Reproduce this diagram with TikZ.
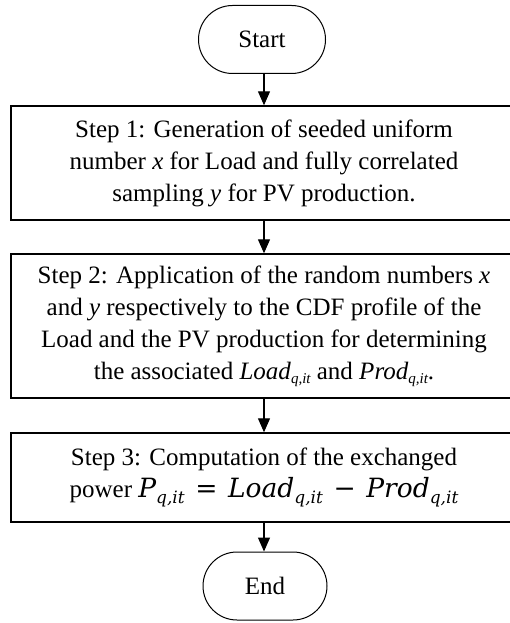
\documentclass[tikz,border=0pt]{standalone}
\usepackage{fontspec}
\setmainfont{Liberation Serif}
\newfontfamily\camfont{DejaVu Serif}
\usetikzlibrary{arrows.meta}
\newcommand\tsub[1]{\raisebox{-0.35ex}{\fontsize{15}{15}\selectfont\itshape #1}}
\newcommand\csub[1]{\raisebox{-0.45ex}{\fontsize{17}{17}\selectfont\camfont\itshape #1}}
\newcommand\cm[1]{{\camfont\fontsize{26.5}{32}\selectfont #1}}
\begin{document}
\begin{tikzpicture}[x=1pt,y=-1pt,
  every node/.style={font=\fontsize{25}{32}\selectfont, align=center, inner sep=0pt},
  term/.style={draw, line width=1pt, rounded corners=34pt, minimum width=127pt, minimum height=68pt},
  stepbox/.style={draw, line width=1.4pt, minimum width=506pt},
  conn/.style={line width=1.2pt, -{Triangle[width=12pt,length=14pt]}}]
\useasboundingbox (0,0) rectangle (509,623);
\node[term] (start) at (262,39.5) {Start};
\node[stepbox, minimum height=114pt] (s1) at (264,163) {Step 1: Generation of seeded uniform\\ number \textit{x} for Load and fully correlated\\ sampling \textit{y} for PV production.};
\node[stepbox, minimum height=144pt] (s2) at (264,326) {Step 2: Application of the random numbers \textit{x}\\ and \textit{y} respectively to the CDF profile of the\\ Load and the PV production for determining\\ the associated \textit{Load}\tsub{q,it} and \textit{Prod}\tsub{q,it}.};
\node[stepbox, minimum height=89pt] (s3) at (264,477.5) {Step 3: Computation of the exchanged\\ power \cm{\itshape P}\csub{q,it}\cm{\hspace{0.4em}=\hspace{0.4em}\itshape Load}\csub{q,it}\cm{\hspace{0.4em}−\hspace{0.4em}\itshape Prod}\csub{q,it}};
\node[term, minimum width=124pt] (end) at (265,586) {End};
\draw[conn] (start.south -| s1.north) -- (s1.north);
\draw[conn] (s1) -- (s2);
\draw[conn] (s2) -- (s3);
\draw[conn] (s3.south) -- (end.north -| s3.south);
\end{tikzpicture}
\end{document}
